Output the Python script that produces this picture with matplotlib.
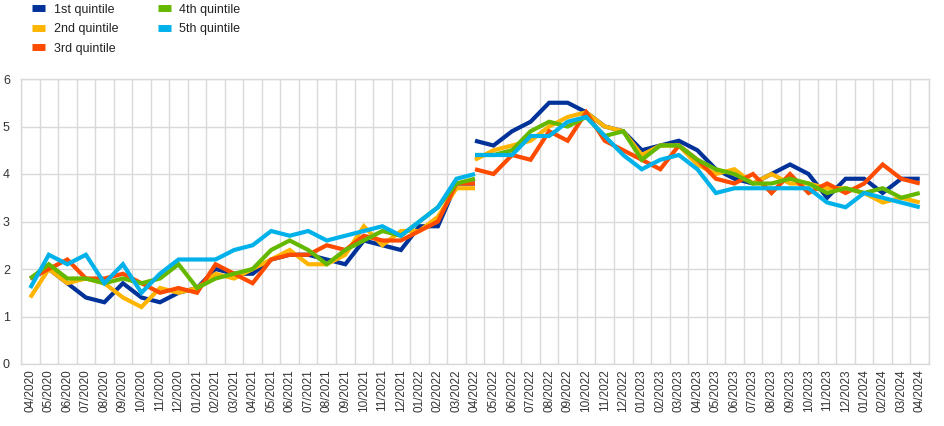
import matplotlib
matplotlib.use("Agg")
import matplotlib.pyplot as plt
from matplotlib.lines import Line2D
import numpy as np

plt.rcParams['font.family'] = ['Liberation Sans', 'DejaVu Sans']

months = ["04/2020", "05/2020", "06/2020", "07/2020", "08/2020", "09/2020", "10/2020",
          "11/2020", "12/2020", "01/2021", "02/2021", "03/2021", "04/2021", "05/2021",
          "06/2021", "07/2021", "08/2021", "09/2021", "10/2021", "11/2021", "12/2021",
          "01/2022", "02/2022", "03/2022", "04/2022", "05/2022", "06/2022", "07/2022",
          "08/2022", "09/2022", "10/2022", "11/2022", "12/2022", "01/2023", "02/2023",
          "03/2023", "04/2023", "05/2023", "06/2023", "07/2023", "08/2023", "09/2023",
          "10/2023", "11/2023", "12/2023", "01/2024", "02/2024", "03/2024", "04/2024"]

series_names = ["1st quintile", "2nd quintile", "3rd quintile", "4th quintile", "5th quintile"]

# old series: 04/2020 - 04/2022
q1_old = [1.8, 2.0, 1.7, 1.4, 1.3, 1.7, 1.4, 1.3, 1.5, 1.6, 2.0, 1.9, 1.9, 2.2, 2.3, 2.3, 2.2, 2.1, 2.6, 2.5, 2.4, 2.9, 2.9, 3.8, 3.8]
q2_old = [1.4, 2.0, 1.7, 1.8, 1.7, 1.4, 1.2, 1.6, 1.5, 1.6, 1.9, 1.8, 2.0, 2.2, 2.4, 2.1, 2.1, 2.3, 2.9, 2.5, 2.8, 2.8, 3.1, 3.7, 3.7]
q3_old = [1.8, 2.0, 2.2, 1.8, 1.8, 1.9, 1.7, 1.5, 1.6, 1.5, 2.1, 1.9, 1.7, 2.2, 2.3, 2.3, 2.5, 2.4, 2.7, 2.6, 2.6, 2.8, 3.0, 3.8, 3.8]
q4_old = [1.8, 2.1, 1.8, 1.8, 1.7, 1.8, 1.7, 1.8, 2.1, 1.6, 1.8, 1.9, 2.0, 2.4, 2.6, 2.4, 2.1, 2.4, 2.6, 2.8, 2.7, 3.0, 3.3, 3.8, 3.9]
q5_old = [1.6, 2.3, 2.1, 2.3, 1.7, 2.1, 1.5, 1.9, 2.2, 2.2, 2.2, 2.4, 2.5, 2.8, 2.7, 2.8, 2.6, 2.7, 2.8, 2.9, 2.7, 3.0, 3.3, 3.9, 4.0]

# new series: 04/2022 - 04/2024
q1_new = [4.7, 4.6, 4.9, 5.1, 5.5, 5.5, 5.3, 5.0, 4.9, 4.5, 4.6, 4.7, 4.5, 4.1, 3.9, 3.8, 4.0, 4.2, 4.0, 3.5, 3.9, 3.9, 3.6, 3.9, 3.9]
q2_new = [4.3, 4.5, 4.6, 4.7, 5.0, 5.2, 5.3, 5.0, 4.9, 4.4, 4.6, 4.6, 4.2, 4.0, 4.1, 3.8, 4.0, 3.8, 3.8, 3.7, 3.7, 3.6, 3.4, 3.5, 3.4]
q3_new = [4.1, 4.0, 4.4, 4.3, 4.9, 4.7, 5.3, 4.7, 4.5, 4.3, 4.1, 4.6, 4.3, 3.9, 3.8, 4.0, 3.6, 4.0, 3.6, 3.8, 3.6, 3.8, 4.2, 3.9, 3.8]
q4_new = [4.4, 4.4, 4.5, 4.9, 5.1, 5.0, 5.2, 4.8, 4.9, 4.3, 4.6, 4.6, 4.3, 4.1, 4.0, 3.8, 3.8, 3.9, 3.8, 3.6, 3.7, 3.6, 3.7, 3.5, 3.6]
q5_new = [4.4, 4.4, 4.4, 4.8, 4.8, 5.1, 5.2, 4.8, 4.4, 4.1, 4.3, 4.4, 4.1, 3.6, 3.7, 3.7, 3.7, 3.7, 3.7, 3.4, 3.3, 3.6, 3.5, 3.4, 3.3]

colors = ["#003299", "#FFB400", "#FF4B00", "#65B800", "#00B1EA"]

old_series = [q1_old, q2_old, q3_old, q4_old, q5_old]
new_series = [q1_new, q2_new, q3_new, q4_new, q5_new]

fig = plt.figure(figsize=(9.45, 4.26), dpi=100)
ax = fig.add_axes([21/945, 62/426, (929-21)/945, (364-79)/426])

n = len(months)
x = np.arange(n)
x_old = x[:len(q1_old)]
x_new = x[n - len(q1_new):]

for so, sn, c in zip(old_series, new_series, colors):
    ax.plot(x_old, so, color=c, lw=3.0, solid_joinstyle='miter', solid_capstyle='butt', zorder=3)
    ax.plot(x_new, sn, color=c, lw=3.0, solid_joinstyle='miter', solid_capstyle='butt', zorder=3)

ax.set_xlim(-0.5, n - 0.5)
ax.set_ylim(0, 6)
ax.set_yticks(range(0, 7))
ax.set_xticks(x)
ax.set_xticklabels(months, rotation=90, fontsize=8.5, color="#333333")
ax.tick_params(axis='y', labelsize=9, colors="#333333", length=0, pad=8)
ax.tick_params(axis='x', length=0, pad=4)
ax.set_xticks(np.arange(-0.5, n, 1.0), minor=True)
ax.grid(False)
ax.grid(True, which='minor', axis='x', color="#d9d9d9", lw=1.0)
ax.grid(True, which='major', axis='y', color="#d9d9d9", lw=1.0)
ax.tick_params(which='minor', length=0)
ax.set_axisbelow(True)
for s in ax.spines.values():
    s.set_color("#d9d9d9")
    s.set_linewidth(1.0)

handles = [Line2D([0], [0], color=c, lw=5, solid_capstyle='butt') for c in colors]
fig.legend(handles, series_names, ncol=2, loc='upper left', bbox_to_anchor=(0.025, 1.012),
           frameon=False, fontsize=9, handlelength=1.0, handletextpad=0.7,
           columnspacing=3.2, labelspacing=0.6, labelcolor="#222222", borderaxespad=0.3)

fig.savefig("out.png", dpi=100)
